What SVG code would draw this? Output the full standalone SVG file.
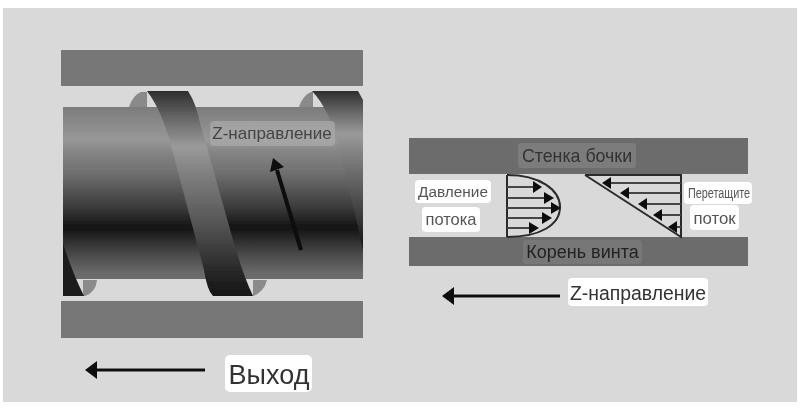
<svg xmlns="http://www.w3.org/2000/svg" width="800" height="407" viewBox="0 0 800 407">
<style>
text{font-family:"Liberation Sans",Arial,sans-serif;fill:#555;text-anchor:middle}
.wall{fill:#777}
.tag{fill:#fff}
.dk{fill:#6c6c6c}
.ln{stroke:#2a2a2a;stroke-width:2;fill:none}
.fl{stroke:#444;stroke-width:1.8;fill:none}
.ar{stroke:#111;stroke-width:3;fill:none}
.fillet{fill:#8a8a8a}
.soft{filter:url(#soft)}
</style>
<defs>
<filter id="soft" x="-2%" y="-2%" width="104%" height="104%"><feGaussianBlur stdDeviation="0.4"/></filter>
<linearGradient id="body" x1="0" y1="0" x2="0" y2="1">
<stop offset="0" stop-color="#7c7c7c"/><stop offset="0.19" stop-color="#989898"/><stop offset="0.26" stop-color="#858585"/><stop offset="0.38" stop-color="#707070"/><stop offset="0.58" stop-color="#3c3c3c"/><stop offset="0.7" stop-color="#131313"/><stop offset="0.85" stop-color="#474747"/><stop offset="0.96" stop-color="#686868"/><stop offset="1" stop-color="#6e6e6e"/>
</linearGradient>
<linearGradient id="flight" x1="0" y1="0" x2="0" y2="1">
<stop offset="0" stop-color="#2e2e2e"/><stop offset="0.13" stop-color="#666"/><stop offset="0.27" stop-color="#9a9a9a"/><stop offset="0.4" stop-color="#808080"/><stop offset="0.66" stop-color="#525252"/><stop offset="0.89" stop-color="#262626"/><stop offset="1" stop-color="#141414"/>
</linearGradient>
</defs>
<rect x="3" y="8" width="794" height="394" fill="#d9d9d9"/>
<g id="screw" class="soft">
<rect class="wall" x="61" y="50" width="302" height="36"/>
<rect class="wall" x="61" y="301" width="302" height="37"/>
<rect x="63" y="107" width="300" height="172" fill="url(#body)"/>
<path class="fillet" d="M129 107Q133 95 141 92L147 92V107Z"/>
<path class="fillet" d="M299 107Q303 95 311 92L313 92V107Z"/>
<path class="fillet" d="M83 280H97Q96 292 85 296H83Z"/>
<path class="fillet" d="M253 280H267Q264 292 253 296Z"/>
<path d="M147 91H188Q196 103 200 123L233 240Q243 275 253 296H213Q207 290 204 270L173 153Q163 112 147 91Z" fill="url(#flight)"/>
<path d="M312 91H358L363 100V250Q359 232 356 218L340 150Q330 110 312 91Z" fill="url(#flight)"/>
<path d="M63 243Q72 272 84 296H63Z" fill="#1e1e1e"/>
<rect x="210" y="121" width="125" height="25" rx="4" fill="#aaa" fill-opacity="0.75"/>
<text x="272" y="139" font-size="17" style="fill:#444">Z-направление</text>
<line x1="301" y1="250" x2="277" y2="170" stroke="#0a0a0a" stroke-width="4"/>
<path d="M273 158L284 167L270 172Z" fill="#0a0a0a"/>
</g>
<g id="channel" class="soft">
<rect class="dk" x="409" y="138" width="339" height="36"/>
<rect class="dk" x="409" y="237" width="339" height="29"/>
<rect x="518" y="143" width="118" height="25" rx="3" fill="#7c7c7c"/>
<rect x="523" y="240" width="119" height="24" rx="3" fill="#777"/>
<text x="577" y="162" font-size="17.800" style="fill:#333">Стенка бочки</text>
<text x="582.500" y="258" font-size="18" style="fill:#222">Корень винта</text>
</g>
<g id="pressure-flow" class="soft">
<path class="ln" d="M507 175V237"/>
<path class="ln" d="M507 175C540 175 560 190 560 207C560 225 540 237 507 237"/>
<path class="fl" d="M507 187H537M507 198H548M507 208H555M507 218H547M507 228H533"/>
<g fill="#111">
<path d="M542 187L533 181V193Z"/><path d="M554 198L544 192V204Z"/><path d="M561 208L551 202V214Z"/><path d="M552 218L542 212V224Z"/><path d="M539 228L529 222V234Z"/>
</g>
</g>
<g id="drag-flow" class="soft">
<path class="ln" d="M585 175H681V237L585 175"/>
<path class="fl" d="M607 183H681M625 193H681M643 204H681M658 215H681M673 227H681"/>
<g fill="#111">
<path d="M602 183L611 177V189Z"/><path d="M620 193L629 187V199Z"/><path d="M638 204L647 198V210Z"/><path d="M653 215L662 209V221Z"/><path d="M668 227L677 221V233Z"/>
</g>
</g>
<g id="labels" class="soft">
<rect class="tag" x="415" y="180" width="76" height="23" rx="4"/>
<text x="453" y="197" font-size="15.400">Давление</text>
<rect class="tag" x="422" y="207" width="58" height="25" rx="4"/>
<text x="451" y="225" font-size="16.500">потока</text>
<rect class="tag" x="684" y="182" width="68" height="22" rx="4"/>
<text x="719" y="198" font-size="14" textLength="62" lengthAdjust="spacingAndGlyphs">Перетащите</text>
<rect class="tag" x="690" y="205" width="49" height="25" rx="4"/>
<text x="714.500" y="224" font-size="16.800">поток</text>
<rect class="tag" x="568" y="278" width="140" height="28" rx="4"/>
<text x="638" y="300" font-size="19.400" style="fill:#333">Z-направление</text>
<rect class="tag" x="225" y="355" width="87" height="37" rx="5"/>
<text x="269" y="384" font-size="27" style="fill:#333">Выход</text>
</g>
<g id="connectors" class="soft">
<line class="ar" x1="450" y1="296" x2="560" y2="296"/>
<path d="M442 296L454 287V305Z" fill="#111"/>
<line class="ar" x1="92" y1="370" x2="205" y2="370"/>
<path d="M85 370L97 361V379Z" fill="#111"/>
</g>
</svg>
